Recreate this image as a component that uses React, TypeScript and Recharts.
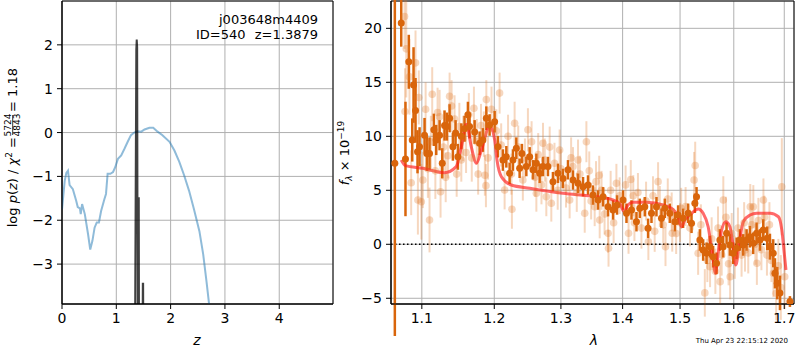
import React from "react";
import { ComposedChart, Line, Scatter, ErrorBar, XAxis, YAxis, CartesianGrid, ReferenceLine, ReferenceArea } from "recharts";

const FONT = "DejaVu Sans, sans-serif";

// left panel: log p(z)
const zTicks = [0, 1, 2, 3, 4];
const logpTicks = [-3, -2, -1, 0, 1, 2];
const pzZ = [0.0, 0.05, 0.08, 0.11, 0.14, 0.2, 0.26, 0.29, 0.33, 0.345, 0.37, 0.42, 0.48, 0.52, 0.56, 0.6, 0.64, 0.68, 0.72, 0.78, 0.81, 0.84, 0.89, 0.94, 0.98, 1.03, 1.09, 1.15, 1.21, 1.27, 1.33, 1.39, 1.46, 1.52, 1.61, 1.68, 1.76, 1.85, 1.98, 2.07, 2.16, 2.25, 2.34, 2.43, 2.53, 2.6, 2.66, 2.71, 2.76];
const pzLog = [-1.75, -1.1, -0.92, -0.87, -1.2, -1.29, -1.55, -1.7, -1.73, -1.86, -1.63, -1.86, -2.32, -2.67, -2.47, -2.17, -2.05, -2.05, -1.79, -1.52, -1.4, -0.94, -0.94, -0.9, -0.79, -0.6, -0.52, -0.37, -0.21, -0.06, 0.0, 0.03, 0.02, 0.07, 0.11, 0.11, 0.02, -0.06, -0.21, -0.41, -0.67, -0.98, -1.33, -1.75, -2.25, -2.78, -3.39, -3.93, -4.5];
const peakZ = [1.34, 1.368, 1.376, 1.384, 1.396, 1.404, 1.41, 1.414, 1.42, 1.48, 1.488, 1.494, 1.5];
const peakLog = [-6, 1.9, 2.12, 1.95, -6, -6, -1.5, -1.5, -6, -6, -3.45, -3.45, -6];

// right panel: spectrum
const waveTicks = [1.1, 1.2, 1.3, 1.4, 1.5, 1.6, 1.7];
const fluxTicks = [-5, 0, 5, 10, 15, 20];

const rawWave = [1.0774, 1.078, 1.0796, 1.0838, 1.086, 1.0917, 1.0948, 1.096, 1.0993, 1.1013, 1.105, 1.108, 1.1102, 1.112, 1.1138, 1.118, 1.121, 1.1237, 1.125, 1.129, 1.132, 1.135, 1.1373, 1.14, 1.1441, 1.147, 1.1507, 1.1534, 1.156, 1.16, 1.1639, 1.168, 1.171, 1.175, 1.177, 1.181, 1.185, 1.1865, 1.188, 1.1886, 1.191, 1.196, 1.203, 1.2077, 1.21, 1.215, 1.22, 1.225, 1.2257, 1.2297, 1.235, 1.2419, 1.245, 1.2495, 1.255, 1.26, 1.2622, 1.265, 1.27, 1.2723, 1.275, 1.2774, 1.2826, 1.2851, 1.29, 1.295, 1.298, 1.3, 1.308, 1.3137, 1.316, 1.319, 1.325, 1.327, 1.33, 1.3377, 1.3404, 1.345, 1.348, 1.3538, 1.356, 1.3612, 1.362, 1.365, 1.37, 1.3757, 1.3765, 1.38, 1.385, 1.3896, 1.395, 1.405, 1.41, 1.4138, 1.418, 1.42, 1.426, 1.432, 1.44, 1.444, 1.452, 1.455, 1.4609, 1.464, 1.47, 1.474, 1.478, 1.485, 1.486, 1.493, 1.5, 1.502, 1.51, 1.518, 1.5255, 1.5275, 1.5329, 1.538, 1.5453, 1.55, 1.555, 1.558, 1.565, 1.57, 1.574, 1.577, 1.58, 1.585, 1.59, 1.593, 1.596, 1.602, 1.608, 1.615, 1.62, 1.6217, 1.628, 1.632, 1.635, 1.638, 1.642, 1.645, 1.648, 1.654, 1.658, 1.66, 1.665, 1.67, 1.674, 1.678, 1.6835, 1.688, 1.693, 1.695, 1.701];
const rawFlux = [21.1, 12.3, 18.1, 15.5, 5.7, 16.8, 4.1, 13.6, 3.94, 5.95, 12.5, 7.0, 2.25, 9.5, 13.9, 6.8, 12.2, 11.8, 4.87, 9.0, 6.2, 8.2, 13.7, 12.8, 11.6, 6.5, 10.9, 7.8, 9.8, 8.5, 12.0, 8.0, 12.6, 9.5, 6.5, 11.0, 10.2, 6.4, 5.43, 13.4, 8.0, 12.5, 10.5, 14.0, 9.2, 5.03, 10.0, 6.5, 3.24, 11.2, 9.0, 5.95, 8.0, 10.6, 9.5, 6.2, 4.72, 8.3, 5.5, 9.35, 7.8, 4.4, 9.0, 3.8, 7.5, 5.0, 8.73, 7.0, 5.2, 4.1, 8.0, 7.2, 4.8, 7.8, 6.5, 2.87, 9.5, 6.8, 4.0, 3.48, 5.8, 6.4, 2.25, 5.0, 2.8, 1.02, -0.37, 5.0, 2.0, 5.65, 4.5, 5.5, 1.02, 6.0, 4.5, 2.0, 4.8, 1.5, 4.0, 0.24, 4.5, 1.2, 5.8, 3.5, 1.8, -0.22, 4.2, 3.0, 1.02, 1.0, 2.0, 3.33, 3.5, 1.5, 5.95, 7.3, -0.83, 1.8, -4.5, -1.5, -2.07, 0.5, -2.5, 1.5, -3.46, -1.0, 4.1, 2.5, -1.8, -3.0, 1.0, -1.2, 1.5, -1.0, 2.0, -0.53, -0.8, 3.48, 1.8, 3.48, 0.0, -1.76, 2.2, -0.5, 4.1, 2.5, -1.0, 1.8, -1.5, -2.69, -4.54, -2.0, -4.0, 5.33, -3.0];
const rawErr = [3.0, 4.0, 4.5, 3.5, 3.0, 3.0, 3.2, 2.5, 3.5, 2.6, 2.5, 2.7, 3.0, 2.4, 2.5, 2.6, 2.3, 2.5, 2.4, 2.2, 2.3, 2.1, 2.2, 2.4, 2.2, 2.1, 2.2, 2.0, 2.1, 1.9, 2.0, 2.2, 2.0, 2.1, 1.9, 2.0, 2.1, 1.9, 2.0, 1.8, 2.0, 2.1, 2.0, 1.9, 2.0, 1.8, 2.0, 1.9, 1.8, 2.0, 2.0, 1.9, 1.8, 2.0, 1.9, 1.8, 1.7, 2.0, 1.8, 1.9, 2.0, 1.8, 1.9, 1.7, 1.9, 1.8, 1.9, 1.8, 1.8, 1.7, 1.9, 1.8, 1.8, 1.9, 1.7, 1.8, 1.9, 1.8, 1.7, 1.8, 1.9, 1.8, 1.7, 1.8, 1.9, 1.8, 1.7, 1.8, 1.9, 1.8, 1.7, 1.8, 1.9, 1.8, 1.9, 1.7, 1.8, 1.9, 1.8, 1.7, 1.8, 1.9, 1.8, 1.9, 1.7, 1.8, 1.9, 1.8, 1.7, 1.9, 1.8, 1.9, 1.8, 1.7, 2.6, 2.2, 2.0, 1.9, 2.2, 2.0, 1.9, 2.0, 2.1, 2.0, 2.1, 1.9, 2.2, 1.9, 2.0, 2.1, 1.9, 2.0, 1.9, 2.0, 1.9, 2.0, 1.9, 2.1, 1.9, 2.0, 1.9, 2.0, 2.1, 1.9, 2.0, 2.0, 1.9, 2.1, 2.0, 2.2, 2.5, 2.5, 3.0, 4.5, 3.0];

const binWave = [1.0649, 1.0731, 1.0786, 1.0829, 1.0874, 1.0891, 1.0917, 1.0943, 1.097, 1.1036, 1.1066, 1.1102, 1.116, 1.1192, 1.1237, 1.1273, 1.1304, 1.1336, 1.1373, 1.1418, 1.1455, 1.1487, 1.1534, 1.1579, 1.1626, 1.1649, 1.172, 1.179, 1.1837, 1.1886, 1.1933, 1.2005, 1.2053, 1.2125, 1.2175, 1.2223, 1.2272, 1.2322, 1.2371, 1.2405, 1.2471, 1.2521, 1.2571, 1.2622, 1.2672, 1.2723, 1.2799, 1.2876, 1.2954, 1.3032, 1.3111, 1.319, 1.327, 1.335, 1.343, 1.3511, 1.3593, 1.3675, 1.3757, 1.384, 1.3907, 1.4007, 1.4065, 1.415, 1.4235, 1.4292, 1.4378, 1.4435, 1.4494, 1.4581, 1.4669, 1.4728, 1.4816, 1.4906, 1.4965, 1.5055, 1.5146, 1.5208, 1.5269, 1.53, 1.5361, 1.5422, 1.5485, 1.5547, 1.5608, 1.5672, 1.5735, 1.5797, 1.5862, 1.5925, 1.5988, 1.6054, 1.6118, 1.6182, 1.6248, 1.6313, 1.6377, 1.6444, 1.651, 1.6576, 1.6656, 1.671, 1.6776, 1.6811, 1.6857, 1.6912, 1.7116];
const binFlux = [7.5, 20.5, 7.9, 16.9, 9.66, 14.75, 12.4, 8.57, 9.04, 10.1, 8.4, 8.4, 10.6, 9.66, 10.1, 7.5, 11.0, 10.9, 11.67, 9.04, 10.3, 8.1, 10.0, 10.7, 12.0, 10.9, 10.4, 9.35, 9.66, 11.67, 11.05, 11.35, 9.04, 7.8, 8.1, 6.57, 7.8, 8.9, 7.04, 8.4, 7.2, 8.1, 6.9, 7.5, 6.57, 7.2, 7.2, 5.8, 6.57, 6.1, 6.9, 5.95, 5.65, 5.33, 5.49, 4.56, 4.1, 4.4, 3.48, 3.18, 3.64, 4.1, 2.87, 3.18, 2.09, 3.33, 3.48, 1.48, 2.87, 3.48, 2.41, 3.33, 2.87, 2.09, 2.71, 2.41, 2.87, 1.94, 3.8, 4.4, 0.4, -0.53, -0.83, -0.22, -1.15, -1.76, 0.4, -0.22, 1.02, -0.06, -0.83, -0.37, 0.4, -0.06, 0.4, 0.7, 0.09, 1.02, 0.4, 1.32, 0.55, -0.22, -0.83, -2.69, -3.6, -4.5, -5.3];
const binErr = [16, 2.2, 5.3, 2.5, 2.0, 3.5, 3.0, 2.0, 1.8, 1.6, 1.6, 1.5, 1.5, 1.4, 1.4, 1.4, 1.4, 1.3, 1.3, 1.3, 1.2, 1.2, 1.2, 1.2, 1.2, 1.1, 1.1, 1.1, 1.1, 1.1, 1.0, 1.0, 1.0, 1.0, 1.0, 1.0, 1.0, 1.0, 0.9, 0.9, 0.9, 0.9, 0.9, 0.9, 0.9, 0.9, 0.9, 0.9, 0.9, 0.9, 0.9, 0.9, 0.9, 0.9, 0.9, 0.9, 0.9, 0.9, 0.9, 0.9, 0.9, 0.9, 0.9, 0.9, 0.9, 0.9, 0.9, 0.9, 0.9, 0.9, 0.9, 0.9, 0.9, 0.9, 0.9, 0.9, 0.9, 0.9, 0.9, 0.9, 1.0, 1.0, 1.0, 1.0, 1.0, 1.0, 1.0, 1.0, 1.0, 1.0, 1.0, 1.0, 1.0, 1.0, 1.0, 1.0, 1.0, 1.0, 1.0, 1.0, 1.1, 1.2, 1.3, 1.4, 1.5, 1.6, 0.5];

const modelWave = [1.0731, 1.0786, 1.1013, 1.1304, 1.1464, 1.1534, 1.1604, 1.1674, 1.1745, 1.1816, 1.1934, 1.2006, 1.2039, 1.2103, 1.2249, 1.2522, 1.3031, 1.3564, 1.3838, 1.395, 1.4023, 1.409, 1.4175, 1.4406, 1.4697, 1.4875, 1.4964, 1.5026, 1.5086, 1.5208, 1.5329, 1.5422, 1.5515, 1.559, 1.5653, 1.5703, 1.5768, 1.5849, 1.5925, 1.5989, 1.6041, 1.6105, 1.6183, 1.6315, 1.6447, 1.6713, 1.6881, 1.695, 1.7, 1.7035];
const modelFlux = [7.8, 7.28, 7.04, 6.63, 7.19, 9.0, 11.1, 9.0, 7.5, 8.7, 10.95, 9.65, 7.8, 6.26, 5.49, 5.19, 4.72, 4.41, 4.1, 3.8, 3.02, 3.64, 3.89, 3.89, 3.64, 3.24, 2.55, 1.63, 2.25, 2.87, 3.27, 2.87, 1.63, -0.83, -2.69, -0.83, 1.32, 2.09, 1.63, -0.22, -1.92, 0.09, 2.09, 2.71, 2.87, 2.87, 2.55, 1.32, -0.83, -2.38];

const pzData = pzZ.map((z, i) => ({ z, p: pzLog[i] }));
const peakData = peakZ.map((z, i) => ({ z, p: peakLog[i] }));
const rawData = rawWave.map((w, i) => ({ w, f: rawFlux[i], e: rawErr[i] }));
const binData = binWave.map((w, i) => ({ w, f: binFlux[i], e: binErr[i] }));
const modelData = modelWave.map((w, i) => ({ w, f: modelFlux[i] }));

const tickStyle = { fill: "#000", fontSize: 14, fontFamily: FONT };
const minus = (v: number) => (v < 0 ? "\u2212" + Math.abs(v) : String(v));

const lightDot = (p: any) => <circle cx={p.cx} cy={p.cy} r={3.8} fill="#e07a2a" fillOpacity={0.3} />;
const darkDot = (p: any) => <circle cx={p.cx} cy={p.cy} r={3.5} fill="#d9650b" />;

export default function App() {
  return (
    <div style={{ position: "absolute", left: 0, top: 0, width: 800, height: 350, background: "#fff" }}>
      <div style={{ position: "absolute", left: 0, top: 0 }}>
        <ComposedChart width={340} height={350} margin={{ top: 1, right: 7, bottom: 0, left: 0 }}>
          <CartesianGrid stroke="#b0b0b0" />
          <XAxis type="number" dataKey="z" domain={[0, 4.99]} ticks={zTicks} allowDataOverflow
            tick={tickStyle} tickLine={{ stroke: "#000" }} axisLine={{ stroke: "#000" }} tickSize={5} tickMargin={4} height={46} />
          <YAxis type="number" domain={[-3.91, 3.0]} ticks={logpTicks} allowDataOverflow tickFormatter={minus}
            tick={tickStyle} tickLine={{ stroke: "#000" }} axisLine={{ stroke: "#000" }} tickSize={5} tickMargin={4} width={62} />
          <Line data={pzData} dataKey="p" type="linear" stroke="#1f77b4" strokeOpacity={0.5} strokeWidth={2} dot={false} isAnimationActive={false} />
          <Line data={peakData} dataKey="p" type="linear" stroke="#000" strokeOpacity={0.75} strokeWidth={2} dot={false} isAnimationActive={false} />
          <ReferenceArea x1={0} x2={4.99} y1={-3.91} y2={3.0} fill="none" stroke="#000" strokeWidth={1} />
        </ComposedChart>
      </div>
      <div style={{ position: "absolute", left: 340, top: 0 }}>
        <ComposedChart width={460} height={350} margin={{ top: 1, right: 6, bottom: 0, left: 0 }}>
          <CartesianGrid stroke="#b0b0b0" />
          <XAxis type="number" dataKey="w" scale="log" domain={[1.06, 1.72]} ticks={waveTicks} allowDataOverflow
            tick={tickStyle} tickLine={{ stroke: "#000" }} axisLine={{ stroke: "#000" }} tickSize={5} tickMargin={4} height={46} />
          <YAxis type="number" domain={[-5.53, 22.53]} ticks={fluxTicks} allowDataOverflow tickFormatter={minus}
            tick={tickStyle} tickLine={{ stroke: "#000" }} axisLine={{ stroke: "#000" }} tickSize={5} tickMargin={4} width={51} />
          <ReferenceLine y={0} stroke="#000" strokeWidth={1.5} strokeDasharray="1.5 2.5" />
          <Scatter data={rawData} dataKey="f" shape={lightDot} isAnimationActive={false}>
            <ErrorBar dataKey="e" direction="y" width={0} stroke="#e07a2a" strokeOpacity={0.3} strokeWidth={2} />
          </Scatter>
          <Scatter data={binData} dataKey="f" shape={darkDot} isAnimationActive={false}>
            <ErrorBar dataKey="e" direction="y" width={0} stroke="#d9650b" strokeWidth={2.5} />
          </Scatter>
          <Line data={modelData} dataKey="f" type="monotone" stroke="#ff1a1a" strokeOpacity={0.65} strokeWidth={3} dot={false} isAnimationActive={false} />
          <ReferenceArea x1={1.06} x2={1.72} y1={-5.53} y2={22.53} fill="none" stroke="#000" strokeWidth={1} />
        </ComposedChart>
      </div>
      <svg width={800} height={350} style={{ position: "absolute", left: 0, top: 0, pointerEvents: "none" }} fontFamily={FONT}>
        <g transform="translate(12,152) rotate(-90)">
          <text x={15} y={5} fontSize={13} textAnchor="end">
            log <tspan fontStyle="italic">p</tspan>(<tspan fontStyle="italic">z</tspan>) / <tspan fontStyle="italic">χ</tspan>
            <tspan fontSize={9} dy={-5}>2</tspan><tspan dy={5}> =</tspan>
          </text>
          <text x={27} y={-1.5} fontSize={9} textAnchor="middle">5724</text>
          <line x1={17} x2={37} y1={0.7} y2={0.7} stroke="#000" strokeWidth={0.8} />
          <text x={27} y={8} fontSize={9} textAnchor="middle">4843</text>
          <text x={40} y={5} fontSize={13} textAnchor="start">= 1.18</text>
        </g>
        <g transform="translate(349,153) rotate(-90)">
          <text x={0} y={0} fontSize={13} textAnchor="middle">
            <tspan fontStyle="italic">f</tspan><tspan fontSize={9} dy={3} fontStyle="italic">λ</tspan>
            <tspan dy={-3}> × 10</tspan><tspan fontSize={9} dy={-5}>−19</tspan>
          </text>
        </g>
        <text x={197} y={345} fontSize={14} fontStyle="italic" textAnchor="middle">z</text>
        <text x={594} y={345} fontSize={14} fontStyle="italic" textAnchor="middle">λ</text>
        <text x={318} y={24} fontSize={13} textAnchor="end">j003648m4409</text>
        <text x={196} y={39} fontSize={13} textAnchor="start">ID=540</text>
        <text x={318} y={39} fontSize={13} textAnchor="end">z=1.3879</text>
        <text x={788} y={343} fontSize={7} textAnchor="end">Thu Apr 23 22:15:12 2020</text>
      </svg>
    </div>
  );
}
